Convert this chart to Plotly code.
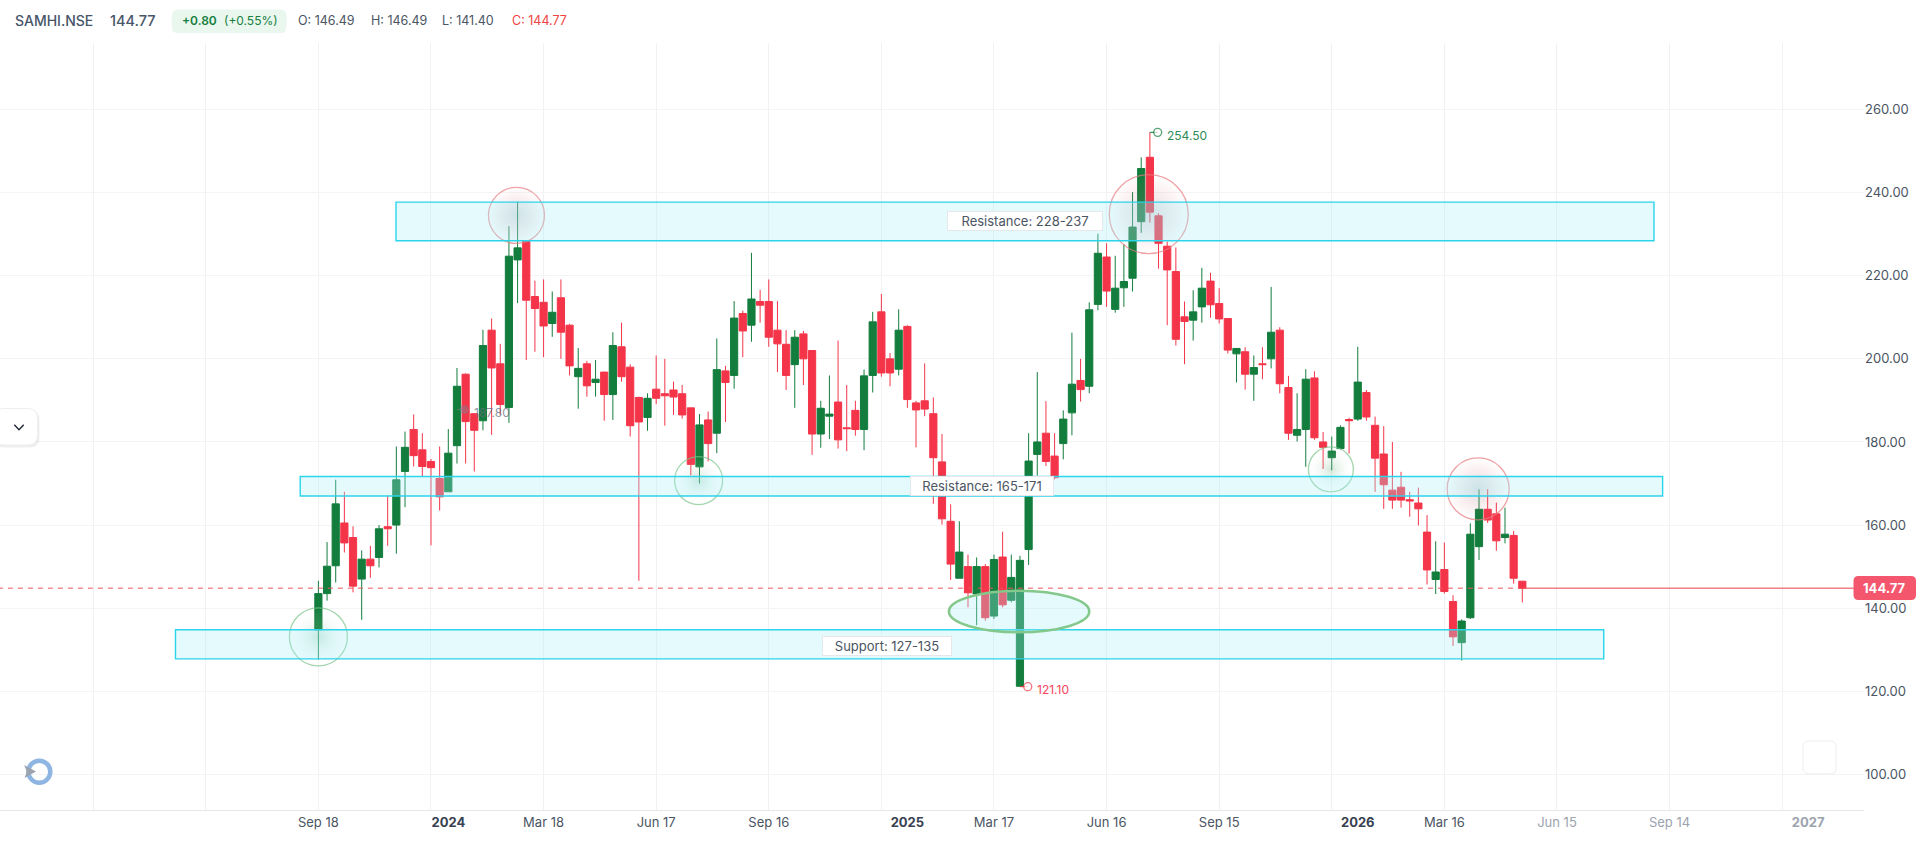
import pandas as pd
import plotly.graph_objects as go

# weekly candles
opens = [134.8, 143.5, 150.2, 160.5, 157.0, 147.0, 151.8, 152.2, 159.6, 160.0, 172.9, 183.0, 178.1, 175.3, 171.2, 168.0, 179.1, 196.3, 186.8, 185.1,
         206.9, 198.8, 188.3, 223.8, 228.3, 215.0, 213.6, 208.5, 214.7, 208.1, 195.7, 198.8, 194.3, 196.8, 191.4, 202.9, 198.0, 190.7, 185.9, 192.7,
         191.6, 192.5, 191.6, 188.2, 174.0, 185.3, 182.1, 197.1, 196.0, 210.9, 208.1, 213.8, 213.8, 206.9, 203.5, 198.6, 206.0, 202.0, 181.9, 186.2,
         189.6, 183.4, 187.6, 183.0, 196.0, 211.3, 200.0, 197.5, 207.8, 189.4, 189.9, 186.8, 175.2, 160.9, 147.2, 150.0, 143.4, 150.0, 138.1, 152.3,
         141.9, 121.2, 154.1, 177.0, 182.1, 176.6, 179.6, 187.0, 194.8, 193.4, 213.1, 224.5, 211.9, 217.1, 219.4, 233.0, 248.5, 234.4, 227.1, 221.0,
         210.1, 209.3, 212.5, 218.7, 213.3, 209.7, 201.2, 201.7, 196.3, 198.8, 200.0, 206.9, 193.1, 181.6, 183.0, 195.4, 180.0, 176.2, 178.4, 185.4,
         185.5, 191.9, 184.0, 177.1, 168.4, 169.1, 166.1, 165.3, 158.3, 146.9, 149.3, 141.6, 131.7, 137.7, 154.8, 163.8, 162.7, 157.0, 157.5, 146.49]
highs = [146.6, 155.9, 170.9, 168.0, 159.7, 153.9, 155.0, 160.0, 167.1, 178.9, 182.5, 186.6, 182.1, 175.9, 178.9, 183.1, 197.8, 196.5, 186.9, 207.0,
         209.7, 203.6, 231.9, 237.8, 228.5, 218.8, 219.1, 216.2, 219.1, 208.4, 202.6, 199.5, 199.7, 196.9, 206.4, 208.7, 198.7, 190.9, 191.7, 200.8,
         200.0, 194.5, 193.7, 188.2, 186.7, 187.3, 204.9, 198.3, 213.9, 211.6, 225.5, 216.6, 219.1, 213.9, 206.9, 206.9, 206.7, 202.0, 189.9, 196.0,
         204.4, 193.7, 189.9, 197.4, 211.3, 215.6, 201.4, 211.9, 208.1, 189.9, 198.9, 190.7, 181.9, 165.0, 160.9, 152.9, 152.2, 150.6, 152.9, 158.4,
         152.9, 152.6, 182.1, 196.8, 189.8, 182.1, 187.6, 206.3, 200.0, 213.6, 230.1, 227.8, 224.8, 227.6, 240.1, 248.5, 254.5, 235.0, 228.2, 226.8,
         213.8, 216.5, 221.9, 220.7, 217.0, 209.7, 202.6, 202.8, 200.8, 202.8, 217.3, 207.6, 195.9, 191.7, 197.5, 197.0, 182.4, 181.3, 184.0, 185.8,
         202.9, 192.5, 186.1, 183.8, 180.0, 172.8, 168.0, 169.0, 162.4, 156.1, 155.8, 143.1, 137.3, 160.4, 168.6, 168.6, 165.4, 164.2, 158.6, 146.49]
lows = [127.6, 141.8, 146.2, 153.4, 143.8, 137.2, 147.3, 149.8, 155.0, 153.1, 164.3, 174.1, 171.7, 155.1, 163.5, 168.0, 174.8, 174.8, 172.9, 182.8,
        181.7, 186.5, 184.6, 213.4, 199.7, 201.7, 200.4, 205.3, 200.0, 196.0, 188.0, 190.9, 190.9, 185.1, 185.3, 194.5, 181.3, 146.6, 182.7, 189.1,
        183.9, 186.5, 185.6, 172.0, 170.0, 175.3, 177.3, 184.8, 192.8, 200.4, 204.1, 208.7, 202.9, 196.8, 192.5, 188.2, 193.7, 176.9, 178.6, 180.7,
        178.4, 177.8, 181.5, 178.0, 191.9, 195.7, 193.4, 196.0, 188.2, 178.7, 186.2, 165.1, 160.1, 146.8, 147.2, 140.2, 135.9, 137.0, 137.4, 140.2,
        141.4, 121.1, 150.4, 171.9, 174.2, 171.0, 175.8, 181.6, 189.7, 191.7, 211.7, 212.5, 211.1, 212.5, 216.2, 230.3, 232.8, 221.7, 208.1, 203.2,
        198.7, 204.4, 208.7, 209.9, 208.5, 201.3, 194.3, 192.6, 189.9, 195.1, 197.7, 191.7, 180.5, 180.1, 174.0, 180.5, 173.5, 173.2, 178.2, 177.2,
        185.1, 185.1, 168.0, 163.9, 163.9, 164.2, 162.0, 159.9, 145.7, 143.4, 143.5, 130.9, 127.4, 137.4, 151.6, 160.5, 153.8, 155.6, 145.9, 141.40]
closes = [143.5, 150.1, 165.1, 155.7, 145.3, 151.8, 150.2, 159.1, 159.1, 170.9, 178.7, 176.7, 174.1, 173.8, 166.8, 177.3, 193.4, 184.9, 182.8, 203.2,
          197.8, 189.0, 224.7, 226.7, 214.1, 212.1, 207.9, 211.2, 206.4, 198.3, 197.7, 193.5, 195.1, 191.4, 203.2, 195.7, 183.9, 184.8, 190.5, 190.5,
          191.1, 190.8, 186.5, 174.6, 184.1, 179.6, 197.4, 194.3, 209.8, 206.7, 214.4, 212.9, 205.2, 203.6, 196.0, 205.2, 200.0, 181.9, 188.1, 186.7,
          180.5, 183.2, 183.0, 195.9, 208.9, 196.6, 196.6, 206.9, 190.2, 187.7, 187.9, 176.2, 161.5, 150.6, 153.5, 143.7, 150.0, 137.7, 151.7, 140.8,
          147.4, 151.5, 175.4, 180.0, 175.3, 171.4, 185.5, 193.9, 192.6, 211.8, 225.4, 216.3, 217.0, 218.6, 231.7, 245.8, 235.3, 227.8, 221.4, 204.7,
          209.0, 211.3, 217.0, 213.0, 209.6, 202.1, 202.5, 196.3, 197.9, 198.6, 206.4, 194.0, 182.1, 183.0, 195.1, 181.0, 178.7, 177.8, 183.5, 185.1,
          194.4, 186.0, 176.1, 169.7, 166.0, 166.0, 165.8, 163.9, 149.2, 148.7, 144.0, 133.1, 136.9, 157.8, 163.8, 161.2, 156.2, 157.8, 147.2, 144.77]
dates = pd.date_range("2023-09-18", periods=len(closes), freq="7D")

grid_dates = ["2023-03-20", "2023-06-19", "2023-09-18", "2023-12-18", "2024-03-18", "2024-06-17", "2024-09-16", "2024-12-16",
              "2025-03-17", "2025-06-16", "2025-09-15", "2025-12-15", "2026-03-16", "2026-06-15", "2026-09-14", "2026-12-14"]
tick_dates = ["2023-09-18", "2024-01-01", "2024-03-18", "2024-06-17", "2024-09-16", "2025-01-06", "2025-03-17", "2025-06-16",
              "2025-09-15", "2026-01-05", "2026-03-16", "2026-06-15", "2026-09-14", "2027-01-04"]
tick_labels = ["Sep 18", '<b style="color:#374151">2024</b>', "Mar 18", "Jun 17", "Sep 16", '<b style="color:#374151">2025</b>', "Mar 17", "Jun 16",
               "Sep 15", '<b style="color:#374151">2026</b>', "Mar 16", '<span style="color:#9ca3af">Jun 15</span>',
               '<span style="color:#9ca3af">Sep 14</span>', '<span style="color:#9ca3af"><b>2027</b></span>']
price_ticks = [100, 120, 140, 160, 180, 200, 220, 240, 260]

zone_names = ["Resistance: 228-237", "Resistance: 165-171", "Support: 127-135"]
zone_lows = [228.4, 167.0, 127.8]
zone_highs = [237.7, 171.7, 134.8]

last_price = 144.77
high_price = 254.50
low_price = 121.10
mid_price = 187.80

GREEN = "#137d3d"
RED = "#f43549"
TEXT = "#4b5563"
FONT = "Inter"

# plot box in screen pixels
L, R, T, B = 0, 1864, 43, 810


def week(n):
    return pd.Timestamp("2023-09-18") + pd.Timedelta(days=7 * n)


def px(x):
    return x / (R - L)


def py(y):
    return (B - y) / (B - T)


def box_path(x0, y0, x1, y1, r):
    # rounded box, corners given in screen pixels
    return (f"M {px(x0 + r)} {py(y0)} L {px(x1 - r)} {py(y0)} Q {px(x1)} {py(y0)} {px(x1)} {py(y0 + r)} "
            f"L {px(x1)} {py(y1 - r)} Q {px(x1)} {py(y1)} {px(x1 - r)} {py(y1)} "
            f"L {px(x0 + r)} {py(y1)} Q {px(x0)} {py(y1)} {px(x0)} {py(y1 - r)} "
            f"L {px(x0)} {py(y0 + r)} Q {px(x0)} {py(y0)} {px(x0 + r)} {py(y0)} Z")


fig = go.Figure()

fig.add_trace(go.Candlestick(
    x=dates, open=opens, high=highs, low=lows, close=closes,
    increasing=dict(line=dict(color=GREEN, width=1), fillcolor=GREEN),
    decreasing=dict(line=dict(color=RED, width=1), fillcolor=RED),
    showlegend=False, hoverinfo="skip",
))

# last price: dashed across the candles, solid after the last one
fig.add_trace(go.Scatter(x=[week(-37), dates[-1]], y=[last_price, last_price], mode="lines",
                         line=dict(color="rgba(239,83,90,0.65)", width=1.5, dash="5px,5px"), showlegend=False, hoverinfo="skip"))
fig.add_trace(go.Scatter(x=[dates[-1], week(177.9)], y=[last_price, last_price], mode="lines",
                         line=dict(color="rgba(239,83,90,0.75)", width=1.5), showlegend=False, hoverinfo="skip"))
fig.add_trace(go.Scatter(x=[week(177.9)], y=[last_price], mode="markers",
                         marker=dict(color="#f43549", size=7), showlegend=False, hoverinfo="skip"))

# the hand drawn circles, gradient.color is the centre of a radial fill
green_weeks = [0, 43.9, 116.9]
green_prices = [133.1, 170.7, 173.4]
green_sizes = [58, 48, 45]
red_weeks = [22.87, 95.87, 133.9]
red_prices = [234.5, 234.8, 168.7]
red_sizes = [56, 79, 62]
fig.add_trace(go.Scatter(
    x=[week(w) for w in green_weeks], y=green_prices, mode="markers", showlegend=False, hoverinfo="skip",
    marker=dict(size=green_sizes, color="rgba(255,255,255,0)",
                gradient=dict(type="radial", color="rgba(90,170,115,0.38)"),
                line=dict(color="#7cc58a", width=1.3)),
))
fig.add_trace(go.Scatter(
    x=[week(w) for w in red_weeks], y=red_prices, mode="markers", showlegend=False, hoverinfo="skip",
    marker=dict(size=red_sizes, color="rgba(244,80,90,0)",
                gradient=dict(type="radial", color="rgba(125,130,140,0.36)"),
                line=dict(color="#e87b80", width=1.3)),
))

# high / low / faint mid markers
fig.add_trace(go.Scatter(x=[week(96), week(96.9)], y=[high_price, high_price], mode="lines+markers", showlegend=False, hoverinfo="skip",
                         line=dict(color=GREEN, width=1),
                         marker=dict(color="white", size=[0, 8], line=dict(color=GREEN, width=1.3))))
fig.add_trace(go.Scatter(x=[week(81), week(81.9)], y=[low_price, low_price], mode="lines+markers", showlegend=False, hoverinfo="skip",
                         line=dict(color=RED, width=1),
                         marker=dict(color="white", size=[0, 8], line=dict(color=RED, width=1.3))))
fig.add_trace(go.Scatter(x=[week(16), week(16.85)], y=[mid_price, mid_price], mode="lines+markers", showlegend=False, hoverinfo="skip",
                         line=dict(color="rgba(120,125,140,0.6)", width=1),
                         marker=dict(color="rgba(130,135,150,0.6)", size=[0, 8])))

shapes = []
zone_x = [(week(8.96), week(154.2)), (week(-2.1), week(155.2)), (week(-16.5), week(148.4))]
for (x0, x1), lo, hi in zip(zone_x, zone_lows, zone_highs):
    shapes.append(dict(type="rect", xref="x", yref="y", x0=x0, x1=x1, y0=lo, y1=hi, layer="above",
                       fillcolor="rgba(165,240,250,0.3)", line=dict(color="#2bd4ea", width=1.4)))
# green oval at the bottom
shapes.append(dict(type="circle", xref="x", yref="y", x0=week(72.8), x1=week(89), y0=134.2, y1=144.2, layer="above",
                   fillcolor="rgba(165,240,250,0.3)", line=dict(color="#85c88c", width=2.6)))
# header pill
shapes.append(dict(type="path", xref="paper", yref="paper", path=box_path(171.7, 9.5, 286.7, 33.3, 7),
                   fillcolor="#e9f7ef", line=dict(width=0)))
# price tag on the right
shapes.append(dict(type="path", xref="paper", yref="paper", path=box_path(1853.5, 576, 1916, 600, 5),
                   fillcolor="#f4566e", line=dict(width=0), layer="above"))
# collapse button on the left
shapes.append(dict(type="path", xref="paper", yref="paper", path=box_path(-6, 410, 39.5, 447.5, 10),
                   fillcolor="rgba(150,150,150,0.16)", line=dict(width=0), layer="above"))
shapes.append(dict(type="path", xref="paper", yref="paper", path=box_path(-6, 408.5, 37.6, 445, 10),
                   fillcolor="white", line=dict(color="#eeeeee", width=1), layer="above"))
shapes.append(dict(type="path", xref="paper", yref="paper",
                   path=f"M {px(14.3)} {py(424.7)} L {px(19)} {py(429.7)} L {px(23.7)} {py(424.7)}",
                   line=dict(color="#1f2937", width=1.4), layer="above"))
# reload icon bottom left
shapes.append(dict(type="circle", xref="paper", yref="paper", x0=px(28.3), x1=px(50.3), y0=py(782.7), y1=py(760.7),
                   line=dict(color="#8fb6e3", width=4.5), layer="above"))
shapes.append(dict(type="path", xref="paper", yref="paper",
                   path=f"M {px(24)} {py(765)} L {px(36)} {py(771.5)} L {px(24.5)} {py(778)} L {px(27)} {py(771.5)} Z",
                   fillcolor="#9ca3af", line=dict(width=0), layer="above"))
# empty button bottom right
shapes.append(dict(type="path", xref="paper", yref="paper", path=box_path(1803, 741, 1836, 774, 6),
                   fillcolor="white", line=dict(color="#eceef0", width=1), layer="above"))

annotations = []


def add_text(x, y, text, size=12.5, color=TEXT, weight=400):
    annotations.append(dict(xref="paper", yref="paper", x=px(x), y=py(y), text=text, showarrow=False,
                            xanchor="left", yanchor="middle", font=dict(family=FONT, size=size, color=color, weight=weight)))


add_text(13, 20.5, "SAMHI.NSE", size=14, color="#475569", weight=500)
add_text(108, 20.5, "144.77", size=14.5, color="#475569", weight=500)
add_text(180, 21, "+0.80", size=12, color="#15803d", weight=600)
add_text(222, 21, "(+0.55%)", size=12, color="#15803d")
add_text(296, 21, "O: 146.49", size=12.5)
add_text(368.5, 21, "H: 146.49", size=12.5)
add_text(440, 21, "L: 141.40", size=12.5)
add_text(510, 21, "C: 144.77", size=12.5, color="#ef4444")
add_text(1165, 135.5, "254.50", size=12, color="#2e8b57")
add_text(1035, 689, "121.10", size=12, color="#f4455a")
add_text(472, 412, "187.80", size=12, color="rgba(100,108,125,0.75)")
annotations.append(dict(xref="paper", yref="paper", x=px(1884.7), y=py(588), text=f"<b>{last_price:.2f}</b>", showarrow=False,
                        xanchor="center", yanchor="middle", font=dict(family=FONT, size=13, color="white")))

# zone captions, white boxes over the candles
label_weeks = [81.6, 76.6, 65.7]
label_prices = [233.1, 169.3, 130.8]
label_widths = [152, 140, 126]
for name, w, p, wd in zip(zone_names, label_weeks, label_prices, label_widths):
    annotations.append(dict(x=week(w), y=p, text=name, showarrow=False, width=wd, height=16, borderpad=1,
                            bgcolor="white", bordercolor="#e5e7eb", borderwidth=1,
                            font=dict(family=FONT, size=13, color=TEXT)))

fig.update_layout(
    width=1920, height=846, autosize=False,
    margin=dict(l=L, r=1920 - R, t=T, b=846 - B),
    paper_bgcolor="white", plot_bgcolor="white",
    font=dict(family=FONT, size=13, color=TEXT),
    boxgap=0.17, boxgroupgap=0,
    shapes=shapes, annotations=annotations,
    xaxis=dict(
        type="date", range=[week(-36.76), week(178.45)], rangeslider=dict(visible=False),
        tickmode="array", tickvals=tick_dates, ticktext=tick_labels, ticks="", showgrid=False,
        showline=True, linecolor="#e5e7eb", linewidth=1, zeroline=False,
        tickfont=dict(family=FONT, size=13, color=TEXT), tickangle=0,
        minor=dict(tickmode="array", tickvals=grid_dates, showgrid=True, gridcolor="#f1f1f4", gridwidth=1.4, ticks=""),
    ),
    yaxis=dict(
        side="right", range=[91.43, 276], tickmode="array", tickvals=price_ticks, tickformat=".2f",
        showgrid=True, gridcolor="#f4f4f5", gridwidth=1, zeroline=False, showline=False, ticks="",
        tickfont=dict(family=FONT, size=13, color=TEXT),
    ),
)

# the page's default body margin would push the fixed size chart off by 8px
fig.write_html("out.html", config=dict(displayModeBar=False),
               post_script="document.body.style.margin='0';document.body.style.overflow='hidden';")
